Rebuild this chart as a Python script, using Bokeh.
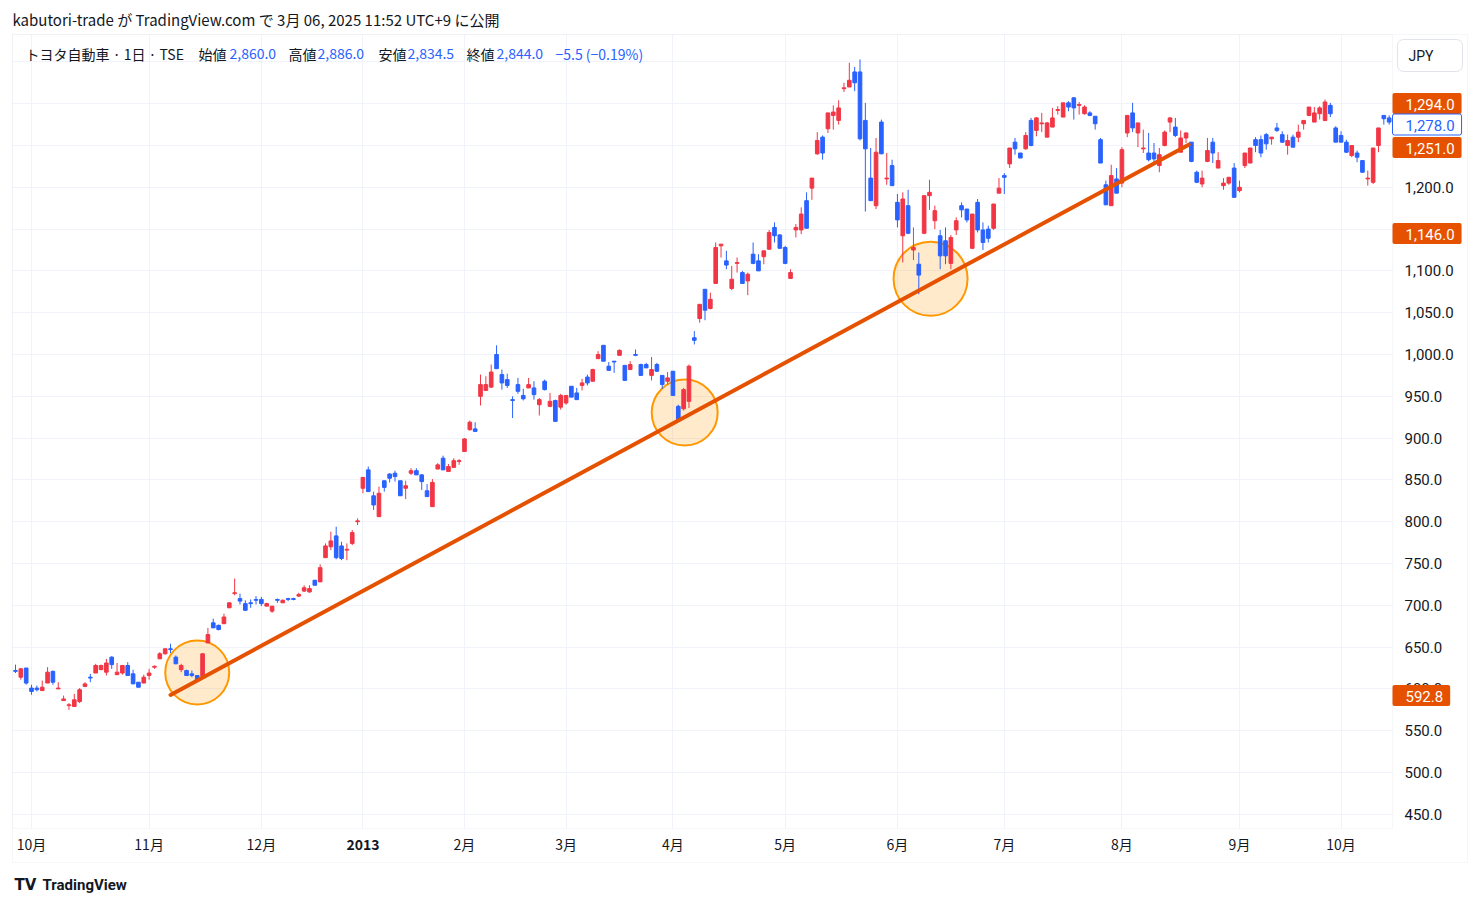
import numpy as np
from bokeh.plotting import figure
from bokeh.models import (ColumnDataSource, Range1d, FixedTicker, NumeralTickFormatter, Label,
                          LinearAxis, Grid, BoxAnnotation)
from bokeh.embed import file_html
from bokeh.resources import INLINE

# ---------------- data (daily candles, trading-day index 0..257) ----------------
opens = [622,614,625,601,601,598,607,621,600,586,580,579,585,603,614,619,623,620,638,617,619,628,618,608,607,616,
         626,636,642,648,638,623,622,618,616,615,655,679,676,678,697,714,708,702,703,707,707,699,693,707,703,708,
         708,711,717,716,730,728,757,770,783,771,766,774,800,840,862,831,806,849,857,858,849,840,858,861,
         856,837,818,863,876,860,865,872,884,910,911,950,957,961,1000,976,970,946,964,951,960,960,940,968,938,945,
         937,942,962,954,963,973,968,995,1011,986,992,999,987,982,1000,988,988,975,988,975,968,980,938,935,944,1020,
         1043,1078,1055,1085,1130,1112,1079,1109,1098,1088,1120,1112,1117,1126,1152,1143,1128,1091,1149,1149,1184,1199,1240,1260,1270,
         1286,1280,1318,1320,1338,1338,1280,1211,1178,1278,1210,1226,1182,1142,1178,1125,1108,1145,1190,1160,1142,1136,1109,1149,
         1178,1174,1127,1182,1149,1150,1151,1193,1214,1228,1254,1241,1246,1280,1268,1276,1260,1272,1292,1284,1301,1307,1298,1288,1289,1285,
         1257,1203,1178,1210,1205,1265,1289,1265,1246,1241,1241,1226,1250,1278,1272,1242,1259,1254,1218,1204,1231,1254,1223,1202,1205,1223,
         1196,1226,1229,1257,1257,1263,1258,1271,1263,1250,1260,1260,1276,1286,1278,1288,1280,1298,1271,1262,1254,1238,1241,1232,1210,1206,1250,1286,1283]
highs = [629,625,625,605,604,610,626,622,608,592,583,594,601,608,618,630,629,636,639,631,628,632,623,608,617,624,
         628,644,648,654,640,630,623,622,616,642,673,684,677,690,703,732,714,706,707,711,710,703,699,708,707,709,
         709,715,724,724,730,749,774,788,794,776,774,790,804,853,866,836,842,849,858,861,849,849,864,864,
         857,845,851,870,879,869,876,875,900,921,919,976,974,988,1011,982,977,950,972,959,972,968,948,970,954,946,
         953,951,962,960,971,976,983,1004,1011,991,992,1006,987,992,1006,989,990,997,990,975,979,980,940,960,988,1028,
         1060,1078,1074,1134,1132,1124,1106,1116,1100,1098,1134,1120,1124,1149,1158,1144,1130,1102,1156,1176,1194,1211,1266,1262,1289,
         1298,1304,1325,1349,1344,1353,1301,1247,1259,1281,1241,1233,1192,1194,1197,1152,1122,1190,1209,1178,1149,1152,1143,1164,
         1182,1174,1168,1186,1158,1154,1180,1211,1217,1247,1259,1241,1266,1283,1284,1289,1278,1295,1297,1301,1303,1308,1302,1298,1291,1285,
         1259,1208,1227,1223,1248,1286,1301,1277,1269,1265,1253,1247,1268,1284,1283,1268,1266,1254,1220,1220,1259,1259,1242,1211,1212,1229,
         1208,1241,1247,1260,1262,1265,1260,1277,1267,1263,1263,1275,1280,1296,1296,1297,1305,1301,1273,1267,1257,1250,1244,1232,1220,1247,1271,1286,1286]
lows = [619,611,605,593,597,598,607,605,600,586,575,579,583,602,608,619,623,616,624,617,617,616,606,602,607,611,
        624,636,641,643,630,620,616,614,610,615,655,673,670,678,697,712,701,694,697,701,699,699,691,703,703,705,
        706,710,716,715,724,728,757,766,755,754,754,772,796,834,836,814,806,836,847,848,831,827,856,856,
        838,830,818,863,862,860,865,868,884,909,908,939,957,960,983,958,960,924,953,945,960,946,927,957,937,920,
        934,940,949,946,957,963,968,995,992,981,978,999,969,982,998,975,984,969,979,959,964,951,922,933,936,1012,
        1038,1041,1054,1085,1116,1102,1077,1098,1085,1071,1108,1100,1108,1125,1134,1127,1108,1091,1140,1144,1151,1185,1239,1233,1265,
        1269,1275,1314,1320,1315,1256,1171,1184,1174,1240,1203,1202,1152,1110,1144,1113,1072,1144,1173,1150,1102,1108,1102,1143,
        1164,1158,1126,1146,1125,1134,1149,1193,1192,1223,1239,1235,1245,1249,1261,1266,1260,1272,1287,1284,1291,1281,1287,1287,1285,1269,
        1229,1179,1178,1193,1200,1260,1266,1248,1241,1231,1229,1218,1249,1266,1260,1242,1253,1230,1205,1200,1230,1229,1223,1197,1203,1188,
        1194,1223,1229,1242,1236,1245,1251,1266,1253,1239,1248,1254,1269,1285,1278,1281,1279,1284,1254,1254,1241,1236,1230,1218,1202,1204,1242,1275,1275]
closes = [621,624,607,597,599,602,620,608,601,588,581,587,599,606,613,628,628,631,629,620,628,616,606,602,614,619,
          627,642,648,647,630,628,616,616,610,642,665,673,671,686,703,715,705,694,702,706,702,702,699,706,706,707,
          707,713,721,720,724,745,771,777,757,756,767,787,801,853,836,820,834,841,852,854,831,843,861,856,
          848,830,847,868,862,866,873,873,899,919,908,964,964,979,983,966,963,945,956,947,964,952,946,958,944,920,
          951,951,949,946,966,966,982,1000,992,981,991,1005,969,988,999,975,984,982,980,964,972,951,922,958,986,1017,
          1060,1053,1066,1128,1132,1107,1090,1110,1085,1096,1109,1100,1124,1146,1142,1127,1109,1098,1152,1168,1151,1211,1256,1241,1289,
          1290,1295,1319,1328,1325,1258,1246,1184,1242,1240,1211,1202,1161,1186,1145,1128,1095,1190,1194,1172,1118,1118,1140,1160,
          1173,1161,1168,1149,1134,1139,1180,1199,1212,1247,1246,1235,1262,1250,1283,1277,1277,1283,1293,1301,1296,1295,1299,1296,1286,1276,
          1229,1179,1214,1193,1245,1286,1271,1277,1247,1233,1234,1239,1266,1283,1262,1259,1265,1231,1206,1211,1244,1241,1232,1205,1212,1188,
          1200,1241,1247,1250,1241,1252,1260,1268,1254,1256,1248,1266,1280,1296,1289,1295,1302,1288,1254,1254,1242,1250,1236,1218,1211,1247,1271,1282,1278]

month_ticks = [3, 25, 46, 65, 84, 103, 123, 144, 165, 185, 207, 229, 248]
month_labels = ["10月", "11月", "12月", "2013", "2月", "3月", "4月", "5月", "6月", "7月", "8月", "9月", "10月"]
price_ticks = list(range(450, 1351, 50))

# trend line drawing (bar index, price)
trend_x = [29.0, 219.5]
trend_y = [592.8, 1251.0]
# highlight circles (bar index, price)
circle_x = [34.0, 125.2, 171.2]
circle_y = [619.6, 930.6, 1090.7]

# price-scale tags
tag_texts = ["1,294.0", "1,278.0", "1,251.0", "1,146.0", "592.8"]

# ---------------- layout / styling ----------------
UP, DOWN = "#F23645", "#2962FF"
DARK = "#131722"
ORANGE = "#E65100"
GRID = "#F0F3FA"
BORDER = "#E0E3EB"
JP = "Noto Sans CJK JP"

W, H = 1480, 906
BAR0_PX, BAR_PX = 15.0, 5.345        # page x of bar 0, px per bar
P1000_PX, PX_PER_YEN = 354.0, 0.836  # page y of price 1000, px per yen


def x_of(X):
    return (X - BAR0_PX) / BAR_PX


def y_of(Y):
    return 1000.0 - (Y - P1000_PX) / PX_PER_YEN


PANE_L, PANE_T, PANE_R, PANE_B = 12, 34, 1392, 828
OUT_R, OUT_B = 1467, 862

p = figure(width=W, height=H, output_backend="svg", toolbar_location=None,
           x_range=Range1d(x_of(0), x_of(W)), y_range=Range1d(y_of(H), y_of(0)),
           x_axis_location=None, y_axis_location=None,
           min_border=0, min_border_left=0, min_border_right=0, min_border_top=0, min_border_bottom=0,
           background_fill_color="white", border_fill_color="white")
p.outline_line_color = None
p.center = [r for r in p.center if not isinstance(r, Grid)]

# grids
xgrid = Grid(dimension=0, ticker=FixedTicker(ticks=month_ticks), grid_line_color=GRID)
ygrid = Grid(dimension=1, ticker=FixedTicker(ticks=price_ticks), grid_line_color=GRID)
if "cross_bounds" in Grid.properties():
    xgrid.cross_bounds = (y_of(PANE_B), y_of(PANE_T))
    ygrid.cross_bounds = (x_of(PANE_L), x_of(PANE_R))
p.add_layout(xgrid)
p.add_layout(ygrid)

# time axis
ax = LinearAxis(ticker=FixedTicker(ticks=month_ticks), fixed_location=y_of(PANE_B))
ax.major_label_overrides = {t: ("" if lab == "2013" else lab) for t, lab in zip(month_ticks, month_labels)}
ax.axis_line_color = None
ax.major_tick_line_color = None
ax.minor_tick_line_color = None
ax.major_tick_out = 0
ax.major_tick_in = 0
ax.major_label_standoff = 5
ax.major_label_text_font = JP
ax.major_label_text_font_size = "14px"
ax.major_label_text_color = DARK
p.add_layout(ax, "below")

# price axis
ay = LinearAxis(ticker=FixedTicker(ticks=price_ticks), fixed_location=x_of(PANE_R),
                formatter=NumeralTickFormatter(format="0,0.0"))
ay.axis_line_color = None
ay.major_tick_line_color = None
ay.minor_tick_line_color = None
ay.major_tick_out = 0
ay.major_tick_in = 0
ay.major_label_standoff = 12
ay.major_label_text_font = "Roboto"
ay.major_label_text_font_size = "15px"
ay.major_label_text_color = DARK
p.add_layout(ay, "right")

# pane borders
p.add_layout(BoxAnnotation(left=x_of(PANE_L), right=x_of(OUT_R), top=y_of(PANE_T), bottom=y_of(OUT_B),
                           fill_alpha=0, line_color=BORDER, line_width=1))
p.add_layout(BoxAnnotation(left=x_of(PANE_L), right=x_of(PANE_R), top=y_of(PANE_T), bottom=y_of(PANE_B),
                           fill_alpha=0, line_color=BORDER, line_width=1))

# circles under candles
p.scatter(x=circle_x, y=circle_y, size=[64, 66, 74], marker="circle",
          fill_color="#FF9800", fill_alpha=0.2, line_color="#FF9800", line_width=2)

o = np.array(opens, float); c = np.array(closes, float)
hi = np.maximum(np.array(highs, float), np.maximum(o, c))
lo = np.minimum(np.array(lows, float), np.minimum(o, c))
idx = np.arange(len(o))
colors = np.where(c >= o, UP, DOWN)
src = ColumnDataSource(dict(x=idx, top=np.maximum(o, c), bottom=np.minimum(o, c),
                            high=hi, low=lo, color=colors))
p.segment(x0="x", y0="low", x1="x", y1="high", line_color="color", line_width=1, source=src)
p.vbar(x="x", width=0.68, top="top", bottom="bottom", fill_color="color",
       line_color="color", line_width=1, source=src)

p.line(x=trend_x, y=trend_y, line_color=ORANGE, line_width=4, line_cap="round")


def add_text(text, X, Y, size="14px", color=DARK, font=JP, align="left", **kw):
    p.add_layout(Label(x=X, y=H - Y, x_units="screen", y_units="screen",
                       text=text, text_align=align, text_baseline="middle",
                       text_font_size=size, text_color=color, text_font=font, **kw))


# top title
add_text("kabutori-trade が TradingView.com で 3月 06, 2025 11:52 UTC+9 に公開", 12, 19, size="15px")
# legend line
legend = [("トヨタ自動車 · 1日 · TSE", 25, DARK), ("始値", 198, DARK), ("2,860.0", 229, DOWN),
          ("高値", 288, DARK), ("2,886.0", 317, DOWN), ("安値", 378, DARK), ("2,834.5", 407, DOWN),
          ("終値", 466, DARK), ("2,844.0", 496, DOWN), ("−5.5 (−0.19%)", 555, DOWN)]
for t, X, col in legend:
    add_text(t, X, 53, color=col)

# bold year tick
p.add_layout(Label(x=65, y=H - 844, x_units="data", y_units="screen", text="2013",
                   text_align="center", text_baseline="middle", text_font=JP,
                   text_font_size="14px", text_font_style="bold", text_color=DARK))

# currency box (padding order: left, right, top, bottom; box anchored at its left edge)
add_text("JPY", 1397, 55, size="14px", font="Roboto", background_fill_color="white",
         border_line_color=BORDER, border_radius=6, padding=(11, 29, 8, 8))

# price tags
tag_y = [103, 124, 147, 233, 695]
for t, Y in zip(tag_texts, tag_y):
    if t == "1,278.0":
        add_text(t, 1392, Y, size="15px", font="Roboto", color=DOWN, background_fill_color="white",
                 border_line_color=DOWN, padding=(13, 7, 6, 4), border_radius=2)
    else:
        add_text(t, 1392, Y, size="15px", font="Roboto", color="white", background_fill_color=ORANGE,
                 padding=(13, 7, 6, 4), border_radius=2)

# footer logo
add_text("TV", 14, 884, size="15px", font="DejaVu Sans", text_font_style="bold")
add_text("TradingView", 42, 884, size="15px", font="Roboto", text_font_style="bold")

open("out.html", "w").write(file_html(p, INLINE))
